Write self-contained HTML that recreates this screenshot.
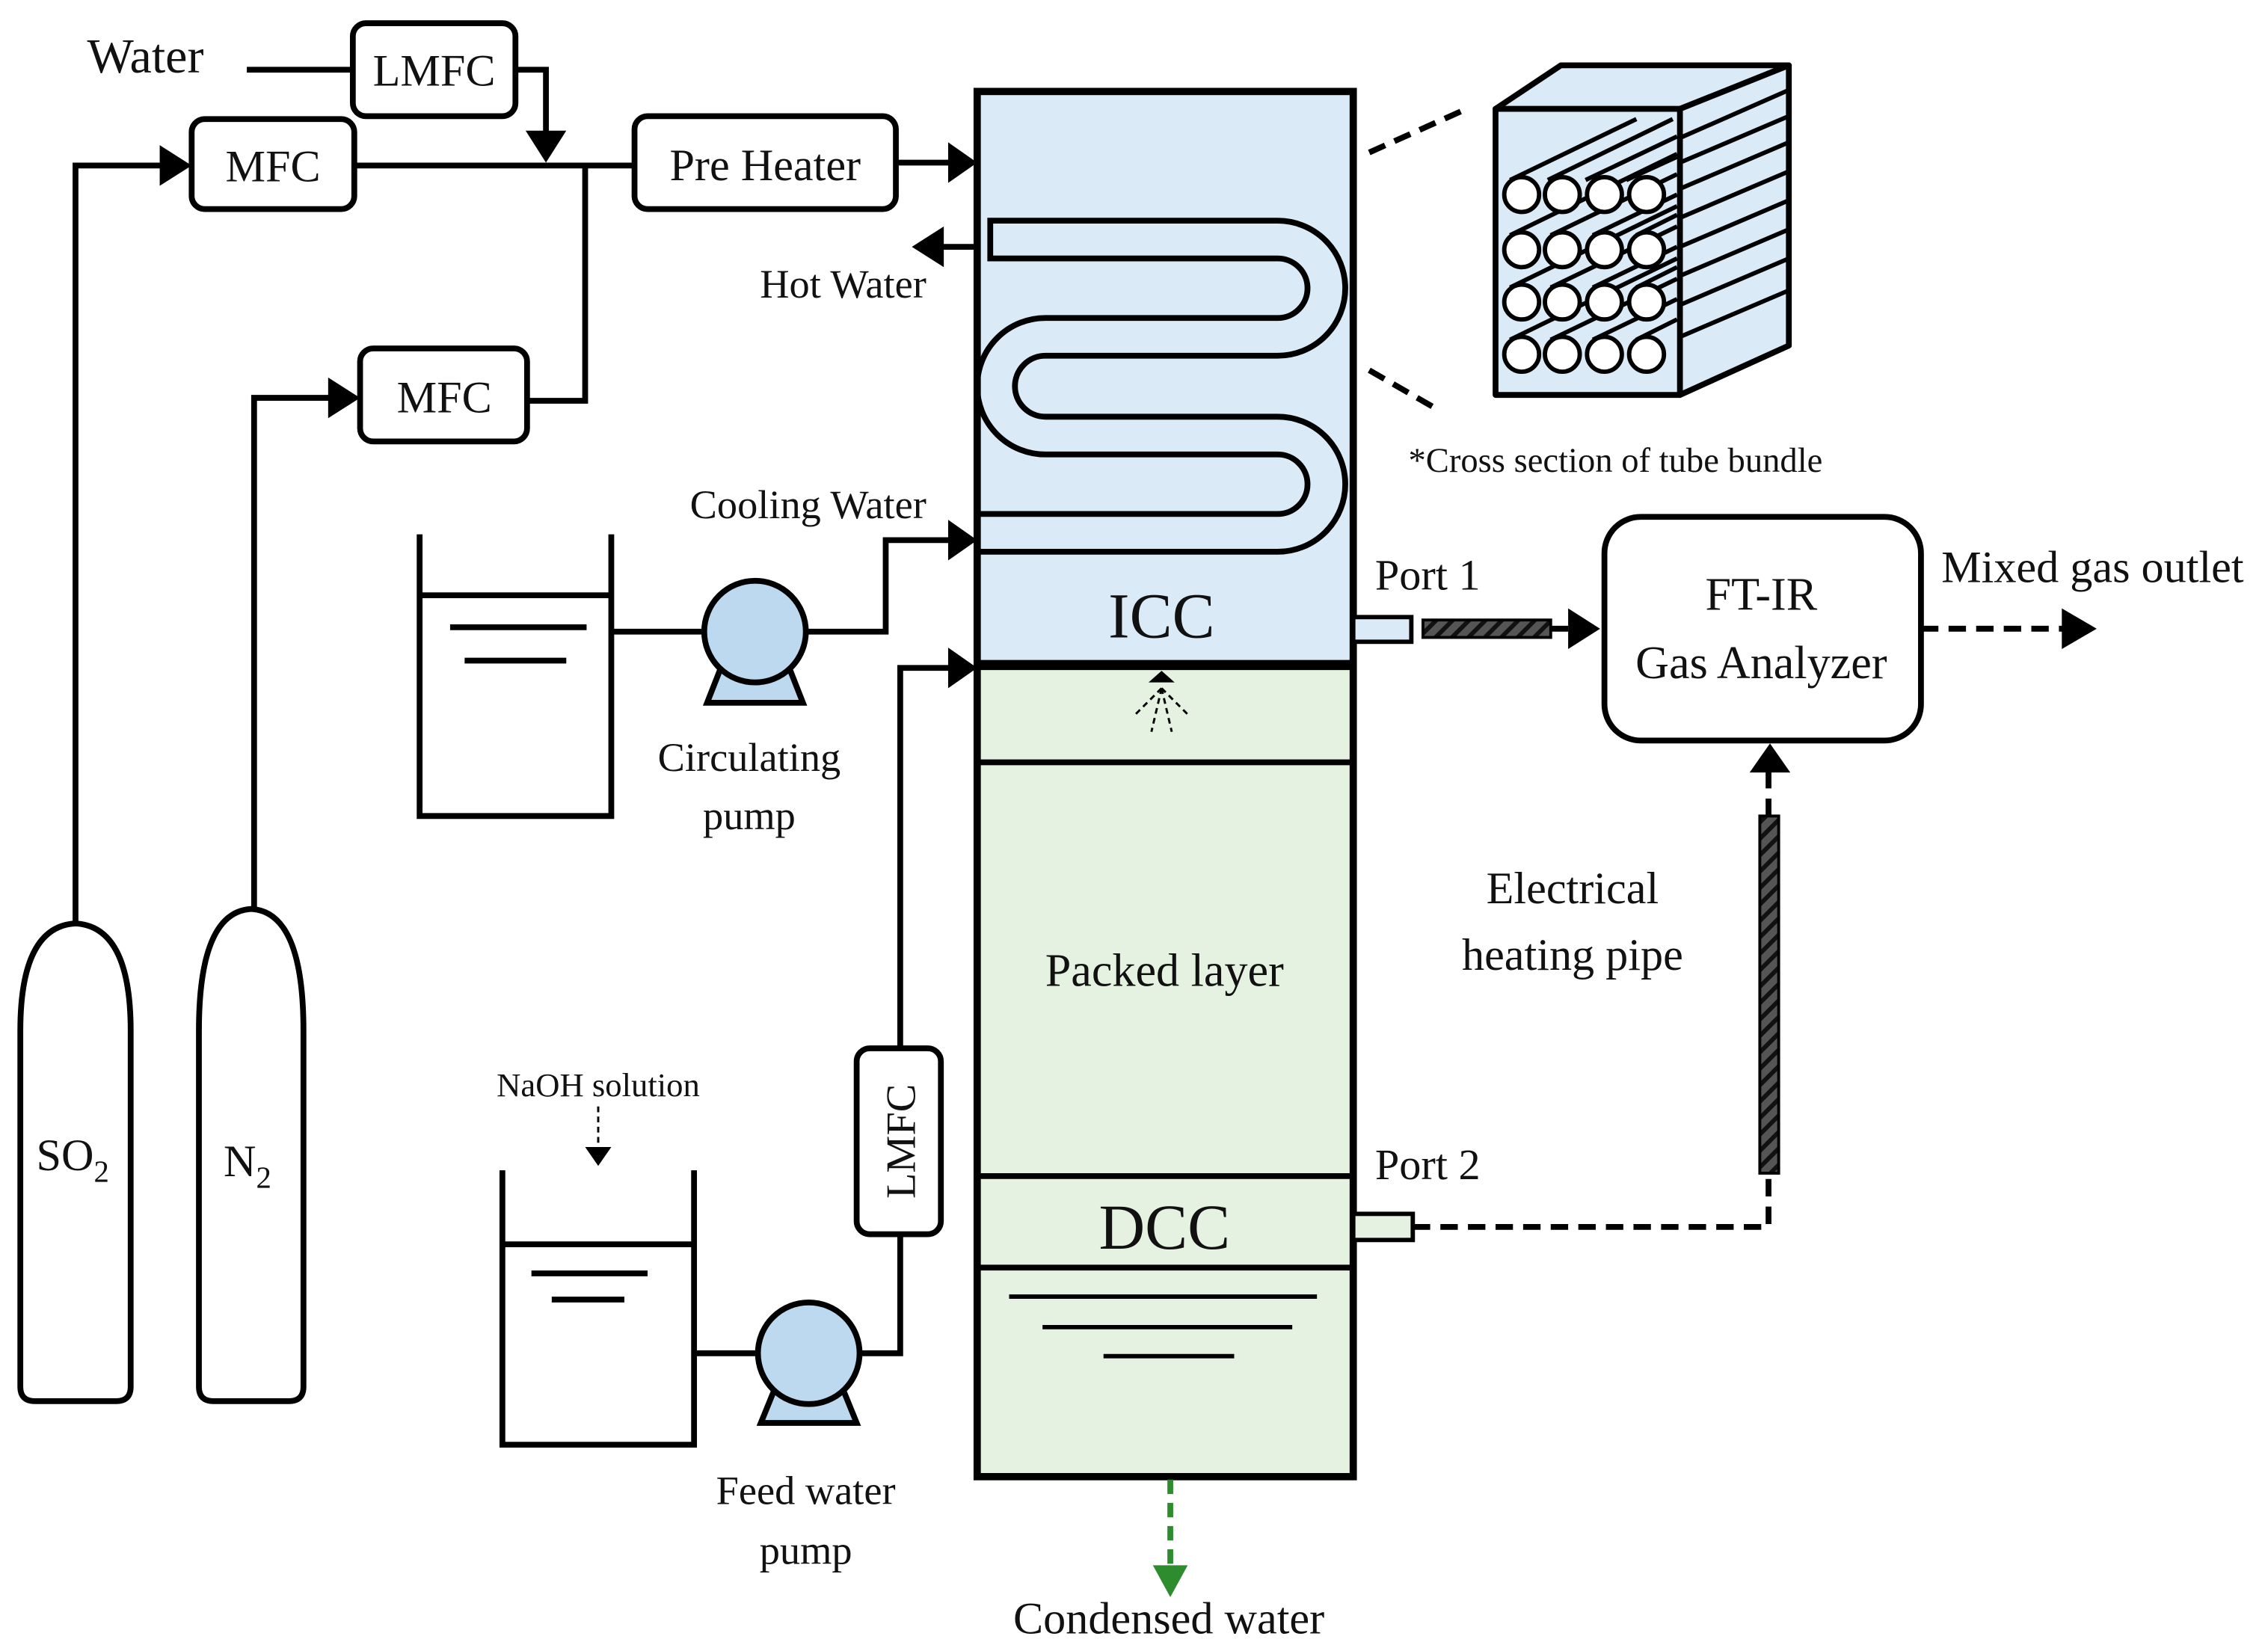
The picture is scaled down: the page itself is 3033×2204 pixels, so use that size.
<!DOCTYPE html>
<html><head><meta charset="utf-8"><style>html,body{margin:0;padding:0;background:#fff}svg{display:block}</style></head>
<body>
<svg width="3033" height="2204" viewBox="0 0 1562 1135" preserveAspectRatio="none" xmlns="http://www.w3.org/2000/svg" font-family="Liberation Serif, serif" fill="#111">
<defs>
<pattern id="hatch" width="8" height="8" patternUnits="userSpaceOnUse" patternTransform="rotate(45)">
<rect width="8" height="8" fill="#555"/><rect width="3" height="8" fill="#111"/></pattern>
</defs>
<g stroke="#000" stroke-width="4" fill="none">
<!-- cylinders -->
<path d="M14,955 L14,710 Q14,638 52,636 Q90,638 90,710 L90,955 Q90,965 80,965 L24,965 Q14,965 14,955 Z"/>
<path d="M137,955 L137,710 Q137,628 173,626 Q209,628 209,710 L209,955 Q209,965 199,965 L147,965 Q137,965 137,955 Z"/>
<!-- gas lines -->
<polyline points="52,636 52,114 112,114"/>
<polyline points="175,626 175,274 228,274"/>
<line x1="170" y1="48" x2="243" y2="48"/>
<polyline points="355,48 376,48 376,92"/>
<line x1="244" y1="114" x2="437" y2="114"/>
<polyline points="403,114 403,276 363,276"/>
<line x1="617" y1="112" x2="655" y2="112"/>
<!-- boxes -->
<rect x="243" y="16" width="112" height="64" rx="9"/>
<rect x="132" y="82" width="112" height="62" rx="9"/>
<rect x="437" y="80" width="180" height="64" rx="9"/>
<rect x="248" y="240" width="115" height="64" rx="9"/>
<rect x="590" y="722" width="58" height="128" rx="9"/>
<rect x="1105" y="356" width="218" height="154" rx="25"/>
<!-- hot water -->
<line x1="648" y1="170" x2="673" y2="170"/>
<!-- tank1 -->
<polyline points="289,368 289,562 421,562 421,368"/>
<line x1="289" y1="410" x2="421" y2="410"/>
<line x1="310" y1="432" x2="404" y2="432"/>
<line x1="320" y1="455" x2="390" y2="455"/>
<line x1="421" y1="435" x2="485" y2="435"/>
<polyline points="555,435 610,435 610,372 655,372"/>
<!-- feed -->
<polyline points="620,722 620,460 655,460"/>
<polyline points="620,850 620,932 592,932"/>
<polyline points="346,806 346,995 478,995 478,806"/>
<line x1="346" y1="857" x2="478" y2="857"/>
<line x1="366" y1="877" x2="446" y2="877"/>
<line x1="380" y1="895" x2="430" y2="895"/>
<line x1="478" y1="932" x2="522" y2="932"/>
</g>
<!-- pumps -->
<g stroke="#000" stroke-width="4" fill="#bcd9ef">
<polygon points="498,456 542,456 553,484 487,484"/>
<circle cx="520" cy="435" r="35"/>
<polygon points="535,953 579,953 590,980 524,980"/>
<circle cx="557" cy="932" r="35"/>
</g>
<!-- arrowheads -->
<g fill="#000">
<polygon points="110,100 132,114 110,128"/>
<polygon points="226,260 248,274 226,288"/>
<polygon points="362,90 390,90 376,112"/>
<polygon points="653,98 673,112 653,126"/>
<polygon points="650,156 628,170 650,184"/>
<polygon points="653,358 673,372 653,386"/>
<polygon points="653,446 673,460 653,474"/>
<polygon points="1080,419 1102,433 1080,447"/>
<polygon points="1420,419 1444,433 1420,447"/>
<polygon points="1205,532 1219,512 1233,532"/>
<polygon points="403,790 412,803 421,790"/>
</g>
<!-- column -->
<rect x="673" y="63" width="259" height="395" fill="#daeaf7"/>
<rect x="673" y="458" width="259" height="559" fill="#e6f2e1"/>
<!-- coil -->
<path d="M680,165 L880,165 A33.5,33.5 0 0 1 880,232 L720,232 A34,34 0 0 0 720,300 L880,300 A33.5,33.5 0 0 1 880,367 L673,367" fill="none" stroke="#000" stroke-width="30"/>
<path d="M684,165 L880,165 A33.5,33.5 0 0 1 880,232 L720,232 A34,34 0 0 0 720,300 L880,300 A33.5,33.5 0 0 1 880,367 L673,367" fill="none" stroke="#daeaf7" stroke-width="22"/>
<g stroke="#000" fill="none">
<rect x="673" y="63" width="259" height="954" stroke-width="5"/>
<line x1="673" y1="458" x2="932" y2="458" stroke-width="7"/>
<line x1="673" y1="525" x2="932" y2="525" stroke-width="4"/>
<line x1="673" y1="810" x2="932" y2="810" stroke-width="4"/>
<line x1="673" y1="873" x2="932" y2="873" stroke-width="4"/>
<line x1="695" y1="893" x2="907" y2="893" stroke-width="3"/>
<line x1="718" y1="914" x2="890" y2="914" stroke-width="3"/>
<line x1="760" y1="934" x2="850" y2="934" stroke-width="3"/>
<g stroke-width="1.5" stroke-dasharray="4,3">
<line x1="800" y1="474" x2="782" y2="492"/><line x1="800" y1="474" x2="793" y2="504"/>
<line x1="800" y1="474" x2="807" y2="504"/><line x1="800" y1="474" x2="818" y2="492"/>
<line x1="412" y1="762" x2="412" y2="792"/>
</g>
<!-- ports -->
<rect x="932" y="425" width="40" height="17" stroke-width="3" fill="#daeaf7"/>
<rect x="932" y="836" width="41" height="18" stroke-width="3" fill="#e6f2e1"/>
<g stroke-width="4" stroke-dasharray="12,7">
<line x1="1068" y1="433" x2="1082" y2="433"/>
<line x1="1323" y1="433" x2="1422" y2="433"/>
<polyline points="973,845 1218,845 1218,808"/>
<line x1="1218" y1="562" x2="1218" y2="530"/>
<line x1="943" y1="105" x2="1010" y2="75"/>
<line x1="943" y1="255" x2="990" y2="282"/>
</g>
<g stroke-width="4" stroke-dasharray="10,6" stroke="#2e8b2e">
<line x1="806" y1="1019" x2="806" y2="1080"/>
</g>
</g>
<polygon points="791,470 800,462 809,470" fill="#000"/>
<polygon points="794,1078 818,1078 806,1100" fill="#2e8b2e"/>
<!-- heating pipes -->
<rect x="980" y="427" width="88" height="12" fill="url(#hatch)" stroke="#000" stroke-width="2"/>
<rect x="1212" y="562" width="13" height="246" fill="url(#hatch)" stroke="#000" stroke-width="2"/>
<!-- cube -->
<g stroke="#000" stroke-width="4" fill="#daeaf7" stroke-linejoin="round">
<polygon points="1030,75 1075,45 1232,45 1157,75"/>
<polygon points="1157,75 1232,45 1232,238 1157,272"/>
<rect x="1030" y="75" width="127" height="197"/>
</g>
<g stroke="#000" stroke-width="3" fill="none">
<line x1="1157" y1="95" x2="1232" y2="62"/><line x1="1157" y1="112" x2="1232" y2="80"/>
<line x1="1157" y1="130" x2="1232" y2="98"/><line x1="1157" y1="150" x2="1232" y2="118"/>
<line x1="1157" y1="170" x2="1232" y2="138"/><line x1="1157" y1="190" x2="1232" y2="158"/>
<line x1="1157" y1="210" x2="1232" y2="178"/><line x1="1157" y1="232" x2="1232" y2="200"/>
<line x1="1040" y1="124" x2="1127" y2="82"/><line x1="1066" y1="124" x2="1152" y2="82"/>
<line x1="1092" y1="124" x2="1155" y2="94"/><line x1="1120" y1="124" x2="1155" y2="108"/>
<line x1="1040" y1="162" x2="1155" y2="106"/><line x1="1068" y1="162" x2="1155" y2="120"/>
<line x1="1097" y1="162" x2="1155" y2="134"/><line x1="1127" y1="162" x2="1155" y2="148"/>
<line x1="1040" y1="198" x2="1155" y2="142"/><line x1="1068" y1="198" x2="1155" y2="156"/>
<line x1="1097" y1="198" x2="1155" y2="170"/><line x1="1127" y1="198" x2="1155" y2="184"/>
<line x1="1040" y1="234" x2="1155" y2="178"/><line x1="1068" y1="234" x2="1155" y2="192"/>
<line x1="1097" y1="234" x2="1155" y2="206"/><line x1="1127" y1="234" x2="1155" y2="220"/>
</g>
<g stroke="#000" stroke-width="3" fill="#fff">
<circle cx="1048" cy="134" r="12"/><circle cx="1076" cy="134" r="12"/><circle cx="1105" cy="134" r="12"/><circle cx="1134" cy="134" r="12"/>
<circle cx="1048" cy="172" r="12"/><circle cx="1076" cy="172" r="12"/><circle cx="1105" cy="172" r="12"/><circle cx="1134" cy="172" r="12"/>
<circle cx="1048" cy="208" r="12"/><circle cx="1076" cy="208" r="12"/><circle cx="1105" cy="208" r="12"/><circle cx="1134" cy="208" r="12"/>
<circle cx="1048" cy="244" r="12"/><circle cx="1076" cy="244" r="12"/><circle cx="1105" cy="244" r="12"/><circle cx="1134" cy="244" r="12"/>
</g>
<!-- text -->
<g font-size="31">
<text x="60" y="50" font-size="34">Water</text>
<text x="299" y="59" text-anchor="middle">LMFC</text>
<text x="188" y="125" text-anchor="middle">MFC</text>
<text x="527" y="124" text-anchor="middle">Pre Heater</text>
<text x="306" y="284" text-anchor="middle">MFC</text>
<text x="638" y="205" text-anchor="end" font-size="28">Hot Water</text>
<text x="638" y="357" text-anchor="end" font-size="28">Cooling Water</text>
<text x="516" y="531" text-anchor="middle" font-size="28">Circulating</text>
<text x="516" y="571" text-anchor="middle" font-size="28">pump</text>
<text x="412" y="755" text-anchor="middle" font-size="23">NaOH solution</text>
<text transform="translate(630,786) rotate(-90)" text-anchor="middle" font-size="29">LMFC</text>
<text x="555" y="1036" text-anchor="middle" font-size="28">Feed water</text>
<text x="555" y="1077" text-anchor="middle" font-size="28">pump</text>
<text x="800" y="439" text-anchor="middle" font-size="44">ICC</text>
<text x="802" y="679" text-anchor="middle" font-size="32">Packed layer</text>
<text x="802" y="860" text-anchor="middle" font-size="44">DCC</text>
<text x="805" y="1125" text-anchor="middle" font-size="31">Condensed water</text>
<text x="947" y="406" font-size="30">Port 1</text>
<text x="947" y="812" font-size="30">Port 2</text>
<text x="1213" y="420" text-anchor="middle" font-size="32">FT-IR</text>
<text x="1213" y="467" text-anchor="middle" font-size="32">Gas Analyzer</text>
<text x="1337" y="401" font-size="31">Mixed gas outlet</text>
<text x="1083" y="622" text-anchor="middle" font-size="31">Electrical</text>
<text x="1083" y="668" text-anchor="middle" font-size="31">heating pipe</text>
<text x="970" y="325" font-size="24">*Cross section of tube bundle</text>
<text x="25" y="806" font-size="31">SO<tspan font-size="21" dy="8">2</tspan></text>
<text x="154" y="810" font-size="31">N<tspan font-size="21" dy="8">2</tspan></text>
</g>
</svg>
</body></html>
